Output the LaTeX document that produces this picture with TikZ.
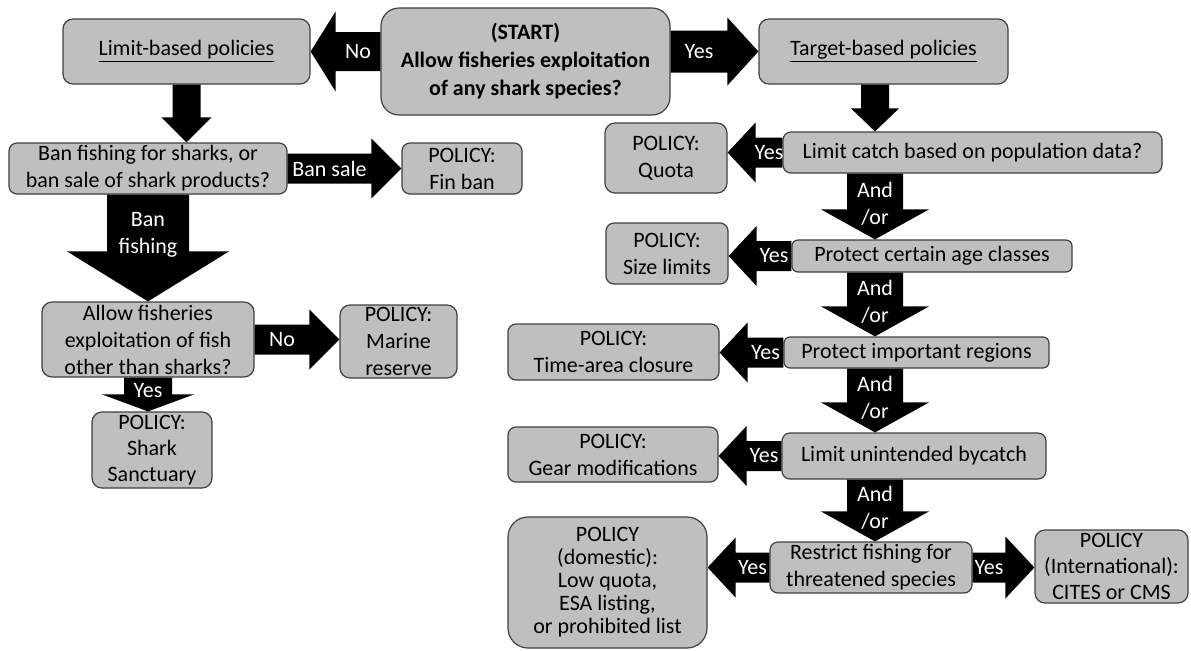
\documentclass[tikz,border=0pt]{standalone}
\usepackage{fontspec}
\setmainfont{Carlito}
\usetikzlibrary{calc}

\tikzset{
  box/.style={draw=black!75, fill=black!25, line width=0.6pt, rounded corners=4pt,
              align=center, inner sep=0pt},
  lbl/.style={text=white, align=center, inner sep=0pt},
  fat/.style n args={3}{to path={
      let \p1=(\tikztostart), \p2=(\tikztotarget),
          \n1={atan2(\y2-\y1,\x2-\x1)} in
      ($(\p1)+(\n1+90:#1)$)
      -- ($(\p2)+(\n1+180:#3)+(\n1+90:#1)$)
      -- ($(\p2)+(\n1+180:#3)+(\n1+90:#2)$)
      -- (\p2)
      -- ($(\p2)+(\n1+180:#3)+(\n1-90:#2)$)
      -- ($(\p2)+(\n1+180:#3)+(\n1-90:#1)$)
      -- ($(\p1)+(\n1-90:#1)$) -- cycle}},
}

\begin{document}
\begin{tikzpicture}[x=0.5pt, y=-0.5pt, font=\fontsize{11}{13.5}\selectfont]
    \useasboundingbox (0,0) rectangle (1191,650);

      \node(limit) at (186.5,51.5) [box, minimum width=123.5pt, minimum height=32.5pt, rounded corners=5pt] {\underline{Limit-based policies}};
      \node(start) at (525.5,61.5) [box, minimum width=144.5pt, minimum height=53.5pt, rounded corners=9pt, font=\fontsize{11}{14}\selectfont\bfseries] {(START)\\Allow fisheries exploitation\\of any shark species?};
      \node(target) at (883.5,51.5) [box, minimum width=124.5pt, minimum height=32.5pt, rounded corners=5pt] {\underline{Target-based policies}};

      \node(ban) at (148,168.5) [box, minimum width=139pt, minimum height=25.5pt] {Ban fishing for sharks, or\\ban sale of shark products?};
      \node(finban) at (462,168.5) [box, minimum width=60pt, minimum height=25.5pt] {POLICY:\\Fin ban};
      \node(allow) at (148,339.5) [box, minimum width=106pt, minimum height=37.5pt, rounded corners=5pt] {Allow fisheries\\exploitation of fish\\other than sharks?};
      \node(marine) at (398.5,341.5) [box, minimum width=58.5pt, minimum height=36.5pt, rounded corners=5pt] {POLICY:\\Marine\\reserve};
      \node(shark) at (152,450) [box, minimum width=60pt, minimum height=38pt, rounded corners=5pt, font=\fontsize{11}{13}\selectfont] {POLICY:\\Shark\\Sanctuary};

      \coordinate(spine) at (875,0);
      \node(catch) at (972.5,152.5) [box, minimum width=189.5pt, minimum height=20.5pt] {Limit catch based on population data?};
      \node(quota) at (666,158) [box, minimum width=61pt, minimum height=35pt, rounded corners=5pt] {POLICY:\\Quota};
      \node(age) at (932,256) [box, minimum width=140pt, minimum height=16pt, rounded corners=3pt] {Protect certain age classes};
      \node(size) at (667,253.5) [box, minimum width=61pt, minimum height=30.5pt] {POLICY:\\Size limits};
      \node(regions) at (916.5,352.5) [box, minimum width=132.5pt, minimum height=15.5pt, rounded corners=3pt] {Protect important regions};
      \node(timearea) at (613.5,352) [box, minimum width=105.5pt, minimum height=28pt] {POLICY:\\Time-area closure};
      \node(bycatch) at (914,456) [box, minimum width=132pt, minimum height=23pt] {Limit unintended bycatch};
      \node(gear) at (613,454.5) [box, minimum width=105pt, minimum height=27.5pt] {POLICY:\\Gear modifications};
      \node(restrict) at (871,567.5) [box, minimum width=101pt, minimum height=25.5pt] {Restrict fishing for\\threatened species};
      \node(domestic) at (607.5,582.5) [box, minimum width=99.5pt, minimum height=65.5pt, rounded corners=10pt, font=\fontsize{11}{11.5}\selectfont] {POLICY\\(domestic):\\Low quota,\\ESA listing,\\or prohibited list};
      \node(intl) at (1111.5,566.5) [box, minimum width=76.5pt, minimum height=36.5pt, rounded corners=5pt, font=\fontsize{11}{13}\selectfont] {POLICY\\(International):\\CITES or CMS};

    \fill (start.west |- limit.east) to[fat={9.75pt}{20pt}{12.5pt}] (limit.east);
    \path (start.west |- limit.east) -- node[lbl]{No} ($(limit.east)+(12.5pt,0)$);
    \fill (start.east |- target.west) to[fat={10.5pt}{17pt}{15.5pt}] (target.west);
    \path (start.east |- target.west) -- node[lbl]{Yes} ($(target.west)+(-15.5pt,0)$);

    \fill (limit.south) to[fat={7pt}{12.5pt}{12.5pt}] (limit.south |- ban.north);
    \fill (ban.east) to[fat={7.5pt}{15pt}{15pt}] (finban.west);
    \path (ban.east) -- node[lbl]{Ban sale} ($(finban.west)+(-15pt,0)$);
    \fill (ban.south) to[fat={20.5pt}{40.5pt}{25pt}] (ban.south |- allow.north);
    \path (ban.south) -- node[lbl]{Ban\\fishing} ($(ban.south |- allow.north)+(0,13pt)$);
    \fill (allow.east) to[fat={7.5pt}{15pt}{15pt}] (marine.west |- allow.east);
    \path (allow.east) -- node[lbl]{No} ($(marine.west |- allow.east)+(-15pt,0)$);
    \fill (allow.south) to[fat={12pt}{23pt}{8.5pt}] (allow.south |- shark.north);
    \path (allow.south) -- node[lbl]{Yes} ($(allow.south |- shark.north)+(0,4pt)$);

    \fill (spine |- target.south) to[fat={7pt}{12pt}{11.5pt}] (spine |- catch.north);
    \foreach \a/\b in {catch/age, age/regions, regions/bycatch, bycatch/restrict}{
      \fill (spine |- \a.south) to[fat={14pt}{27pt}{15pt}] (spine |- \b.north);
      \path (spine |- \a.south) -- node[lbl, yshift=1.5pt]{And\\/or} (spine |- \b.north);
    }
    \foreach \a/\b in {catch/quota, age/size, regions/timearea, bycatch/gear, restrict/domestic}{
      \fill (\a.west) to[fat={7.5pt}{15pt}{14pt}] (\b.east |- \a.west);
      \path (\a.west) -- node[lbl]{Yes} ($(\b.east |- \a.west)+(14pt,0)$);
    }
    \fill (restrict.east) to[fat={7.5pt}{15.5pt}{14.5pt}] (intl.west |- restrict.east);
    \path (restrict.east) -- node[lbl]{Yes} ($(intl.west |- restrict.east)+(-14.5pt,0)$);
\end{tikzpicture}
\end{document}
